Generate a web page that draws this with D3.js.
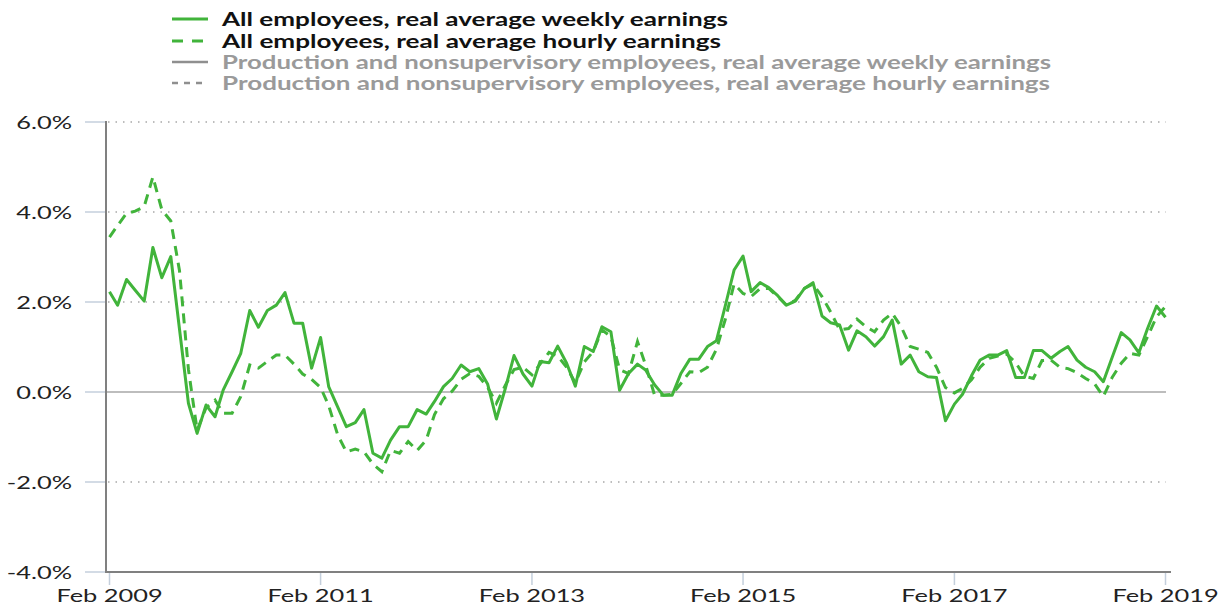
<!DOCTYPE html>
<html>
<head>
<meta charset="utf-8">
<script src="https://cdn.jsdelivr.net/npm/d3@7"></script>
<style>
  body { margin: 0; background: #fff; }
  svg { display: block; font-family: Lato, "Open Sans", sans-serif; }
</style>
</head>
<body>
<svg class="chart"></svg>
<script>
// monthly, Feb 2009 .. Feb 2019, 12-month % change
var weekly = [
  2.23, 1.93, 2.50, 2.26, 2.02, 3.21, 2.54, 3.01, 1.40, -0.25, -0.92, -0.29,
  -0.55, 0.04, 0.45, 0.86, 1.81, 1.44, 1.81, 1.93, 2.21, 1.53, 1.53, 0.53,
  1.21, 0.12, -0.33, -0.77, -0.68, -0.39, -1.36, -1.47, -1.07, -0.77, -0.77, -0.39,
  -0.49, -0.21, 0.12, 0.30, 0.60, 0.45, 0.52, 0.17, -0.60, 0.08, 0.81, 0.40,
  0.13, 0.68, 0.65, 1.02, 0.64, 0.13, 1.01, 0.90, 1.45, 1.34, 0.04, 0.41,
  0.62, 0.49, 0.16, -0.07, -0.07, 0.41, 0.73, 0.73, 1.01, 1.14, 1.90, 2.71,
  3.02, 2.23, 2.43, 2.32, 2.14, 1.93, 2.02, 2.30, 2.43, 1.69, 1.54, 1.49,
  0.93, 1.36, 1.23, 1.02, 1.23, 1.60, 0.62, 0.82, 0.45, 0.34, 0.32, -0.64,
  -0.27, -0.05, 0.36, 0.71, 0.82, 0.82, 0.92, 0.32, 0.32, 0.92, 0.92, 0.75,
  0.90, 1.01, 0.71, 0.55, 0.45, 0.23, 0.78, 1.32, 1.16, 0.87, 1.41, 1.91,
  1.66
];
var hourly = [
  3.44, 3.70, 3.97, 4.02, 4.12, 4.78, 4.05, 3.80, 2.70, 0.50, -0.85, -0.35,
  -0.18, -0.47, -0.47, -0.10, 0.60, 0.53, 0.68, 0.82, 0.82, 0.62, 0.40, 0.28,
  0.10, -0.30, -0.95, -1.33, -1.27, -1.33, -1.60, -1.77, -1.30, -1.36, -1.10, -1.30,
  -1.07, -0.50, -0.15, 0.02, 0.28, 0.41, 0.35, 0.10, -0.25, 0.15, 0.50, 0.55,
  0.38, 0.62, 0.88, 0.80, 0.55, 0.20, 0.67, 0.90, 1.38, 1.23, 0.50, 0.41,
  1.12, 0.60, -0.07, -0.07, -0.05, 0.19, 0.45, 0.43, 0.55, 0.95, 1.60, 2.40,
  2.19, 2.12, 2.30, 2.30, 2.12, 1.93, 2.04, 2.30, 2.40, 2.12, 1.78, 1.38,
  1.41, 1.62, 1.45, 1.34, 1.60, 1.75, 1.45, 1.01, 0.95, 0.88, 0.55, 0.10,
  -0.02, 0.08, 0.27, 0.55, 0.75, 0.80, 0.84, 0.65, 0.35, 0.30, 0.70, 0.71,
  0.55, 0.52, 0.43, 0.30, 0.18, -0.10, 0.33, 0.64, 0.86, 0.82, 1.23, 1.67,
  1.90
];
var yTicks = [-4, -2, 0, 2, 4, 6];
var xTickYears = [2009, 2011, 2013, 2015, 2017, 2019];
var legendItems = [
  "All employees, real average weekly earnings",
  "All employees, real average hourly earnings",
  "Production and nonsupervisory employees, real average weekly earnings",
  "Production and nonsupervisory employees, real average hourly earnings"
];

var W = 1226, H = 605;
var green = "#41b43b";
var stretch = 1.45;               // the source art is wide-set
var legendWidths = [506, 499, 829, 828];
var legendRows = [19, 41, 62, 83];

var svg = d3.select(".chart").attr("width", W).attr("height", H);

var dates = weekly.map(function(d, i) { return new Date(2009, 1 + i, 1); });

var x = d3.scaleTime()
    .domain([new Date(2009, 1, 1), new Date(2019, 1, 1)])
    .range([109.5, 1165.5]);
var y = d3.scaleLinear().domain([-4, 6]).range([572, 122]);

function widen(sel) {
  sel.each(function() {
    var w = this.getComputedTextLength();
    d3.select(this).attr("textLength", w * stretch).attr("lengthAdjust", "spacingAndGlyphs");
  });
}

// grid
svg.append("g").selectAll("line")
    .data(yTicks.filter(function(t) { return t !== 0 && t !== -4; }))
  .enter().append("line")
    .attr("x1", 108).attr("x2", 1166)
    .attr("y1", function(d) { return y(d); }).attr("y2", function(d) { return y(d); })
    .attr("stroke", "#a8a8a8").attr("stroke-width", 1.5)
    .attr("stroke-dasharray", "1.5,6");

svg.append("line")
    .attr("x1", 106).attr("x2", 1166).attr("y1", y(0)).attr("y2", y(0))
    .attr("stroke", "#bdbdbd").attr("stroke-width", 2);

// y axis ticks + labels
svg.append("g").selectAll("line")
    .data(yTicks)
  .enter().append("line")
    .attr("x1", 85).attr("x2", 106)
    .attr("y1", function(d) { return y(d); }).attr("y2", function(d) { return y(d); })
    .attr("stroke", "#c4cfdc").attr("stroke-width", 1.5);

svg.append("g").selectAll("text")
    .data(yTicks)
  .enter().append("text")
    .attr("x", 72).attr("y", function(d) { return y(d) + 1; })
    .attr("dy", "0.36em")
    .attr("text-anchor", "end")
    .attr("font-size", 17.5)
    .attr("fill", "#222")
    .text(function(d) { return d.toFixed(1) + "%"; })
    .call(widen);

svg.append("line")
    .attr("x1", 106).attr("x2", 106).attr("y1", 121).attr("y2", 572)
    .attr("stroke", "#808080").attr("stroke-width", 2);

// x axis
svg.append("line")
    .attr("x1", 105).attr("x2", 1171).attr("y1", 572).attr("y2", 572)
    .attr("stroke", "#808080").attr("stroke-width", 2);

var xt = svg.append("g").selectAll("g")
    .data(xTickYears)
  .enter().append("g")
    .attr("transform", function(d) { return "translate(" + x(new Date(d, 1, 1)) + ",0)"; });
xt.append("line")
    .attr("y1", 573).attr("y2", 585)
    .attr("stroke", "#c4cfdc").attr("stroke-width", 1.5);
xt.append("text")
    .attr("y", 602)
    .attr("text-anchor", "middle")
    .attr("font-size", 17.5)
    .attr("fill", "#222")
    .text(function(d) { return "Feb " + d; })
    .call(widen);

// lines
var line = d3.line()
    .x(function(d, i) { return x(dates[i]); })
    .y(function(d) { return y(d); });

svg.append("path")
    .attr("d", line(hourly))
    .attr("fill", "none").attr("stroke", green)
    .attr("stroke-width", 3).attr("stroke-dasharray", "10,7");

svg.append("path")
    .attr("d", line(weekly))
    .attr("fill", "none").attr("stroke", green)
    .attr("stroke-width", 3).attr("stroke-linejoin", "round");

// legend
var leg = svg.append("g").selectAll("g")
    .data(legendItems)
  .enter().append("g")
    .attr("transform", function(d, i) { return "translate(0," + legendRows[i] + ")"; });

leg.append("line")
    .attr("x1", 172).attr("x2", 208).attr("y1", 0).attr("y2", 0)
    .attr("stroke", function(d, i) { return i < 2 ? green : "#8f8f8f"; })
    .attr("stroke-width", function(d, i) { return i < 2 ? 3 : 2.5; })
    .attr("stroke-dasharray", function(d, i) {
      return i === 1 ? "11,9" : i === 3 ? "6,6" : null;
    });

leg.append("text")
    .attr("x", 222).attr("y", 1).attr("dy", "0.36em")
    .attr("font-size", 18)
    .attr("font-weight", 700)
    .attr("fill", function(d, i) { return i < 2 ? "#111" : "#9a9a9a"; })
    .attr("textLength", function(d, i) { return legendWidths[i]; })
    .attr("lengthAdjust", "spacingAndGlyphs")
    .text(function(d) { return d; });
</script>
</body>
</html>
